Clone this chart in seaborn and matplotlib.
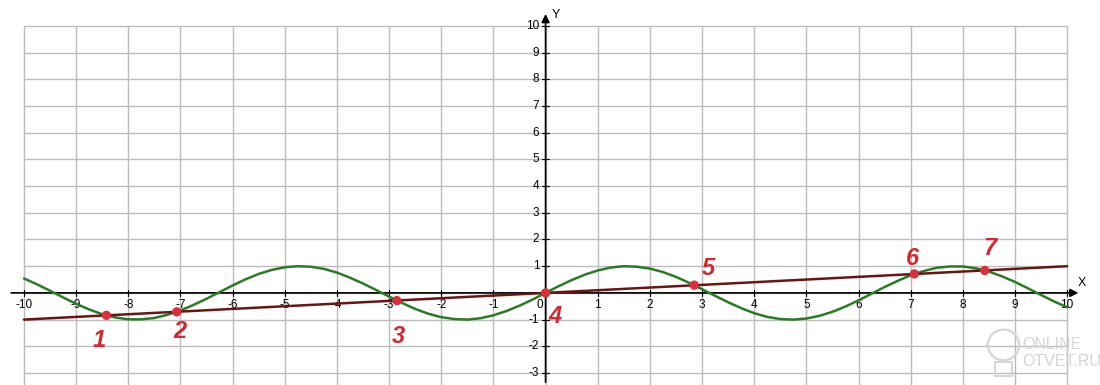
import matplotlib
matplotlib.use("Agg")
import matplotlib.pyplot as plt
from matplotlib.patches import Ellipse, Rectangle
import seaborn as sns
import pandas as pd

# ---- data ----
sine_x = [-10.0, -9.75, -9.5, -9.25, -9.0, -8.75, -8.5, -8.25, -8.0, -7.75,
          -7.5, -7.25, -7.0, -6.75, -6.5, -6.25, -6.0, -5.75, -5.5, -5.25,
          -5.0, -4.75, -4.5, -4.25, -4.0, -3.75, -3.5, -3.25, -3.0, -2.75,
          -2.5, -2.25, -2.0, -1.75, -1.5, -1.25, -1.0, -0.75, -0.5, -0.25,
          0.0, 0.25, 0.5, 0.75, 1.0, 1.25, 1.5, 1.75, 2.0, 2.25,
          2.5, 2.75, 3.0, 3.25, 3.5, 3.75, 4.0, 4.25, 4.5, 4.75,
          5.0, 5.25, 5.5, 5.75, 6.0, 6.25, 6.5, 6.75, 7.0, 7.25,
          7.5, 7.75, 8.0, 8.25, 8.5, 8.75, 9.0, 9.25, 9.5, 9.75, 10.0]
sine_y = [0.54, 0.32, 0.08, -0.17, -0.41, -0.62, -0.80, -0.92, -0.99, -0.99,
          -0.94, -0.82, -0.66, -0.45, -0.22, 0.03, 0.28, 0.51, 0.71, 0.86,
          0.96, 1.00, 0.98, 0.90, 0.76, 0.57, 0.35, 0.11, -0.14, -0.38,
          -0.60, -0.78, -0.91, -0.98, -1.00, -0.95, -0.84, -0.68, -0.48, -0.25,
          0.00, 0.25, 0.48, 0.68, 0.84, 0.95, 1.00, 0.98, 0.91, 0.78,
          0.60, 0.38, 0.14, -0.11, -0.35, -0.57, -0.76, -0.90, -0.98, -1.00,
          -0.96, -0.86, -0.71, -0.51, -0.28, -0.03, 0.22, 0.45, 0.66, 0.82,
          0.94, 0.99, 0.99, 0.92, 0.80, 0.62, 0.41, 0.17, -0.08, -0.32, -0.54]
line_x = [-10.0, 10.0]
line_y = [-1.0, 1.0]
point_x = [-8.42, -7.07, -2.85, 0.0, 2.85, 7.07, 8.42]
point_y = [-0.84, -0.71, -0.29, 0.0, 0.29, 0.71, 0.84]
point_labels = ["1", "2", "3", "4", "5", "6", "7"]
x_ticks = [-10, -9, -8, -7, -6, -5, -4, -3, -2, -1, 1, 2, 3, 4, 5, 6, 7, 8, 9, 10]
y_ticks = [-3, -2, -1, 1, 2, 3, 4, 5, 6, 7, 8, 9, 10]

# ---- styling ----
sns.set_theme(style="white")
plt.rcParams['font.family'] = ['Liberation Sans', 'DejaVu Sans']

fig = plt.figure(figsize=(11, 3.85), dpi=100)
ax = fig.add_axes([0, 0, 1, 1])
ax.set_xlim(-10.46, 10.63)
ax.set_ylim(-3.45, 10.97)
ax.axis('off')

grid_c = '#bcbcbc'
ax.vlines(list(range(-10, 11)), -3.45, 10, color=grid_c, lw=1.0, zorder=0)
ax.hlines(list(range(-3, 11)), -10, 10, color=grid_c, lw=1.0, zorder=0)

# axes with arrows
ax.annotate('', xy=(10.27, 0), xytext=(-10.3, 0),
            arrowprops=dict(arrowstyle='-|>', color='black', lw=1.2,
                            mutation_scale=12), zorder=2)
ax.annotate('', xy=(0, 10.55), xytext=(0, -3.45),
            arrowprops=dict(arrowstyle='-|>', color='black', lw=1.2,
                            mutation_scale=12), zorder=2)
ax.text(10.2, 0.15, 'X', fontsize=9, color='black', ha='left', va='bottom')
ax.text(0.12, 10.42, 'Y', fontsize=9, color='black', ha='left', va='center')

for xt in x_ticks:
    ax.plot([xt, xt], [-0.1, 0.1], color='black', lw=0.8, zorder=2)
    ax.text(xt, -0.22, str(xt), fontsize=8.5, ha='center', va='top', color='black')
for yt in y_ticks:
    ax.plot([-0.06, 0.06], [yt, yt], color='black', lw=0.8, zorder=2)
    ax.text(-0.12, yt, str(yt), fontsize=8.5, ha='right', va='center', color='black')
ax.text(-0.05, -0.22, '0', fontsize=8.5, ha='right', va='top', color='black')

# curves
sine_df = pd.DataFrame({'x': sine_x, 'y': sine_y})
line_df = pd.DataFrame({'x': line_x, 'y': line_y})
pts_df = pd.DataFrame({'x': point_x, 'y': point_y})
sns.lineplot(data=sine_df, x='x', y='y', ax=ax, color='#2b7a26', lw=1.8,
             sort=False, zorder=3)
sns.lineplot(data=line_df, x='x', y='y', ax=ax, color='#6a1414', lw=1.8,
             sort=False, zorder=4)
sns.scatterplot(data=pts_df, x='x', y='y', ax=ax, color='#d8313a', s=45,
                edgecolor='none', zorder=5)

offsets = [(-5, -18), (2, -14), (1, -26), (7, -17), (10, 12), (-1, 11), (4, 16)]
for xv, yv, lab, off in zip(point_x, point_y, point_labels, offsets):
    ax.annotate(lab, (xv, yv), xytext=off, textcoords='offset points',
                ha='center', va='center', fontsize=17, fontweight='bold',
                fontstyle='italic', color='#cf2a32', zorder=6)

# watermark
wm_c = '#d6d6d6'
ax.text(9.14, -1.92, 'ONLINE', fontsize=11.5, color=wm_c, ha='left',
        va='center', zorder=1)
ax.text(9.14, -2.56, 'OTVET.RU', fontsize=11.5, color=wm_c, ha='left',
        va='center', zorder=1)
ax.add_patch(Ellipse((8.78, -1.95), 0.6, 1.15, fill=False, ec=wm_c, lw=1.6,
                     zorder=1))
ax.add_patch(Rectangle((8.62, -3.1), 0.32, 0.5, fill=False, ec=wm_c, lw=1.4,
                       zorder=1))

fig.savefig('out.png', dpi=100)
